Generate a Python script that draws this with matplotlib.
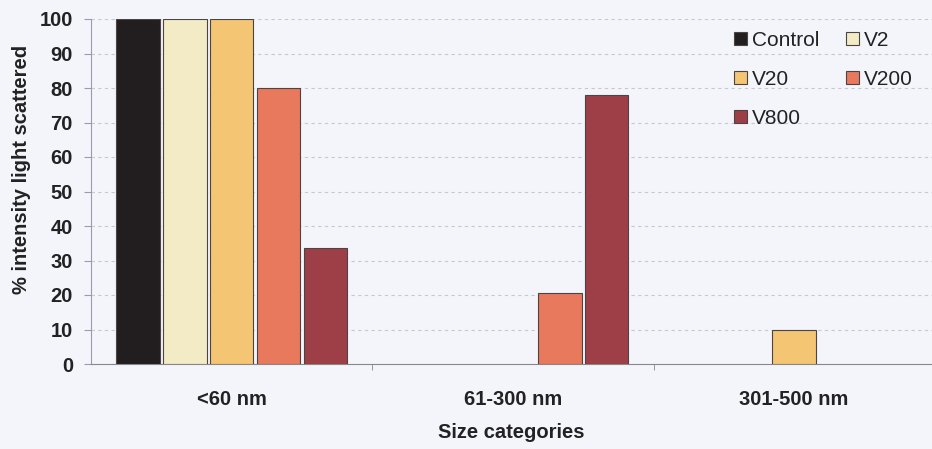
import numpy as np
import matplotlib
matplotlib.use("Agg")
import matplotlib.pyplot as plt

plt.rcParams["font.family"] = ["Liberation Sans", "DejaVu Sans"]

categories = ["<60 nm", "61-300 nm", "301-500 nm"]
series = ["Control", "V2", "V20", "V200", "V800"]
control = [100, 0, 0]
v2 = [100, 0, 0]
v20 = [100, 0, 10]
v200 = [80, 20.5, 0]
v800 = [33.5, 78, 0]
values = [control, v2, v20, v200, v800]
colors = ["#221e1f", "#f2ebc6", "#f4c673", "#e8795d", "#9e3f48"]

bg = "#f4f4fb"
txt = "#222222"
fig = plt.figure(figsize=(9.32, 4.49), dpi=100, facecolor=bg)
ax = fig.add_axes([91 / 932, 85 / 449, 841 / 932, 345 / 449], facecolor=bg)

x = np.arange(len(categories))
slot = 1 / 6
bw = 0.155
handles = []
for i, (name, vals, c) in enumerate(zip(series, values, colors)):
    pos = x + (i - 2) * slot
    mask = np.array(vals) > 0
    h = ax.bar(pos[mask], np.array(vals)[mask], width=bw, color=c,
               edgecolor="#4a4444", linewidth=0.8, label=name, zorder=3)
    handles.append(h)

ax.set_xlim(-0.5, 2.49)
ax.set_ylim(0, 100)
ax.set_yticks(range(0, 101, 10))
ax.set_xticks(x)
ax.set_xticklabels(categories, fontsize=14.5, fontweight="bold", color=txt)
ax.set_xticks([0.5, 1.5], minor=True)
ax.tick_params(axis="x", which="major", length=0, pad=19)
ax.tick_params(axis="x", which="minor", length=4, color="#888888")
ax.tick_params(axis="y", length=5, color="#9a9ab0", labelsize=14.5, pad=8)
for t in ax.get_yticklabels():
    t.set_fontweight("bold")
    t.set_color(txt)

ax.grid(axis="y", linestyle=(0, (3, 3)), color="#c8c8d0", linewidth=0.8, zorder=0)
for s in ["top", "right"]:
    ax.spines[s].set_visible(False)
ax.spines["left"].set_color("#9a9ab0")
ax.spines["bottom"].set_color("#888888")

ax.set_xlabel("Size categories", fontsize=14.5, fontweight="bold", color=txt, labelpad=10)
ax.set_ylabel("% intensity light scattered", fontsize=14.5, fontweight="bold", color=txt, labelpad=5)
ax.yaxis.set_label_coords(-0.071, 0.565)

# row-wise legend order: Control V2 / V20 V200 / V800
order = [0, 2, 4, 1, 3]
fig.legend([handles[k] for k in order], [series[k] for k in order],
           ncol=2, loc="upper left", bbox_to_anchor=(734 / 932, 1 - 31 / 449),
           frameon=False, borderaxespad=0, borderpad=0,
           fontsize=15, handlelength=0.6, handleheight=0.6, handletextpad=0.25,
           columnspacing=1.3, labelspacing=0.95, labelcolor=txt)

fig.savefig("out.png", dpi=100, facecolor=bg)
